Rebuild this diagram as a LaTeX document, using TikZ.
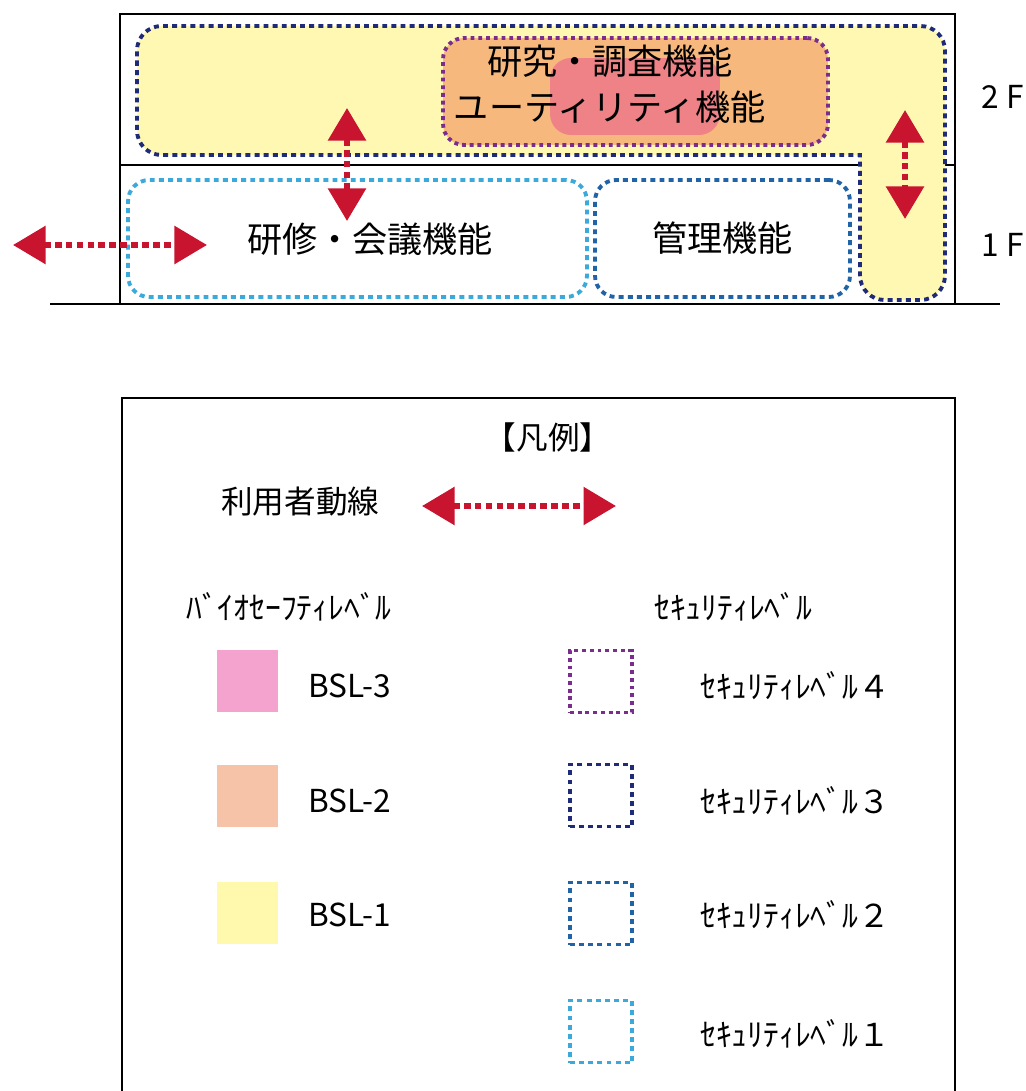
\documentclass[tikz,border=0pt]{standalone}
\usepackage{fontspec}
\setmainfont{Noto Sans CJK JP}
\usetikzlibrary{arrows.meta}
\definecolor{bslone}{HTML}{FFF8B2}
\definecolor{bsltwo}{HTML}{F6B87C}
\definecolor{bslthree}{HTML}{EE8286}
\definecolor{keypink}{HTML}{F4A3CF}
\definecolor{keypeach}{HTML}{F6C3A9}
\definecolor{keyyellow}{HTML}{FFF9AE}
\definecolor{secfour}{HTML}{7B2D8E}
\definecolor{secthree}{HTML}{1F2A78}
\definecolor{sectwo}{HTML}{2063A6}
\definecolor{secone}{HTML}{3BAADA}
\definecolor{flowred}{HTML}{C8142E}
\tikzset{
  secl/.style={line width=2.2pt, dash pattern=on 2.8pt off 2.4pt},
  secfourl/.style={secl, draw=secfour, dash pattern=on 2.2pt off 2.2pt},
  secthreel/.style={secl, draw=secthree},
  sectwol/.style={secl, draw=sectwo},
  seconel/.style={secl, draw=secone},
  flow/.style={draw=flowred, line width=3.4pt, dash pattern=on 3.8pt off 2.4pt,
    {Triangle[length=18.5pt,width=21pt]}-{Triangle[length=18.5pt,width=21pt]}},
  room/.style={rounded corners=12pt, inner sep=0pt, font=\fontsize{20}{26}\selectfont},
  keytext/.style={anchor=west, font=\fontsize{18}{22}\selectfont},
  keybox/.style={minimum width=1.24cm, minimum height=1.24cm, inner sep=0pt}
}
\begin{document}
\begin{tikzpicture}[x=0.02cm, y=-0.02cm]
\useasboundingbox (0,0) rectangle (1026,1091);

\draw[line width=1.2pt] (120,304) -- (120,14) -- (955,14) -- (955,304);
\draw[line width=1.2pt] (120,165) -- (955,165);
\draw[line width=1.2pt] (50,304) -- (1000,304);

\draw[secthreel, fill=bslone, rounded corners=14pt]
  (137,90) -- (137,26) -- (945,26) -- (945,300) -- (860,300)
  [sharp corners] -- (860,155) [rounded corners=14pt] -- (137,155) -- cycle;

\node[room, secfourl, fill=bsltwo, minimum width=7.7cm, minimum height=2.14cm]
  (research) at (635.5,91.5) {};
\node[room, fill=bslthree, minimum width=3.4cm, minimum height=1.54cm]
  (core) at (635,96.5) {};
\node[room, align=center] (researchtext) at (610,84)
  {研究・調査機能\\ユーティリティ機能};

\node[room, seconel, minimum width=9.18cm, minimum height=2.34cm]
  (training) at (357.5,238.5) {};
\node[room] (trainingtext) at (370,239) {研修・会議機能};
\node[room, sectwol, minimum width=5.1cm, minimum height=2.34cm]
  (admin) at (722.5,238.5) {管理機能};

\node[font=\fontsize{18}{22}\selectfont] (floortwo) at (1003,97) {2 F};
\node[font=\fontsize{18}{22}\selectfont] (floorone) at (1003,245) {1 F};

\coordinate (stairtop) at (347,108);
\coordinate (stairbottom) at (347,221);
\coordinate (lifttop) at (905,110);
\coordinate (liftbottom) at (905,219);
\coordinate (doorout) at (13,245);
\coordinate (doorin) at (207,245);
\draw[flow] (stairtop) -- (stairbottom);
\draw[flow] (lifttop) -- (liftbottom);
\draw[flow] (doorout) -- (doorin);

\draw[line width=1.2pt] (122,1100) -- (122,398) -- (955,398) -- (955,1100);
\node[font=\fontsize{18}{22}\selectfont] (keytitle) at (548,437) {【凡例】};

\node[keytext] (flowlabel) at (215,502) {利用者動線};
\coordinate (keyflowl) at (422,506);
\coordinate (keyflowr) at (616,506);
\draw[flow] (keyflowl) -- (keyflowr);

\node[keytext] (bsltitle) at (180,607) {ﾊﾞｲｵｾｰﾌﾃｨﾚﾍﾞﾙ};
\node[keytext] (sectitle) at (648,607) {ｾｷｭﾘﾃｨﾚﾍﾞﾙ};

\node[keybox, fill=keypink] (bslthreebox) at (247.5,681) {};
\node[keybox, fill=keypeach] (bsltwobox) at (247.5,795.5) {};
\node[keybox, fill=keyyellow] (bslonebox) at (247.5,912.5) {};
\node[keytext] (bslthreetext) at (302,686) {BSL-3};
\node[keytext] (bsltwotext) at (302,801) {BSL-2};
\node[keytext] (bslonetext) at (302,915) {BSL-1};

\node[keybox, secfourl] (secfourbox) at (601,681.5) {};
\node[keybox, secthreel] (secthreebox) at (601,795.5) {};
\node[keybox, sectwol] (sectwobox) at (601,913.5) {};
\node[keybox, seconel] (seconebox) at (601,1031.5) {};
\node[keytext] (secfourtext) at (694,686) {ｾｷｭﾘﾃｨﾚﾍﾞﾙ４};
\node[keytext] (secthreetext) at (694,801) {ｾｷｭﾘﾃｨﾚﾍﾞﾙ３};
\node[keytext] (sectwotext) at (694,915) {ｾｷｭﾘﾃｨﾚﾍﾞﾙ２};
\node[keytext] (seconetext) at (694,1034) {ｾｷｭﾘﾃｨﾚﾍﾞﾙ１};
\end{tikzpicture}
\end{document}
